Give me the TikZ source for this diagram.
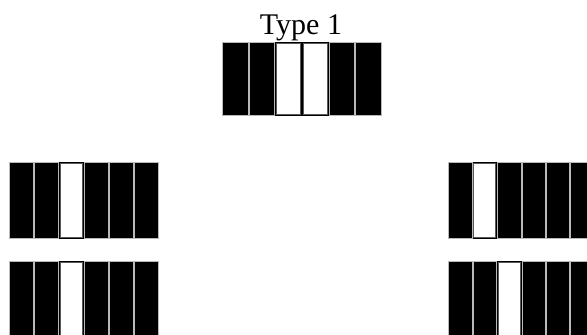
\documentclass[tikz,border=0pt]{standalone}
\usepackage{fontspec}
\setmainfont{Liberation Serif}
\tikzset{
  cellB/.style={fill=black, draw=gray!55, line width=1pt},
  cellBg/.style={fill=black, draw=none},
  cellW/.style={fill=white, draw=gray!70!black, line width=1pt},
  title/.style={font=\fontsize{30}{35}\selectfont, inner sep=0pt, anchor=base}
}
% #1 x0, #2 y0, #3 cell width, #4 height, #5 pattern list (B/W)
\newcommand{\barrow}[5]{%
  \foreach \f [count=\i from 0] in {#5} {%
    \pgfmathsetmacro\xa{#1+\i*#3}%
    \pgfmathsetmacro\xb{#1+(\i+1)*#3}%
    \if\f B%
      \draw[cellB] (\xa+0.5,#2+0.5) rectangle (\xb-0.5,#2+#4-0.5);%
    \else
      \fill[cellBg] (\xa,#2) rectangle (\xb,#2+#4);%
      \draw[cellW] (\xa+1.2,#2+1.5) rectangle (\xb-1.2,#2+#4-2);%
    \fi
  }%
}
\begin{document}
\begin{tikzpicture}[x=1pt,y=-1pt]
\useasboundingbox[fill=white] (0,0) rectangle (587,335);
% top group
\barrow{222.3}{41.7}{26.57}{74.3}{B,B,W,W,B,B}
% left groups
\barrow{9.3}{162.3}{24.9}{77}{B,B,W,B,B,B}
\barrow{9.3}{260.7}{24.9}{77}{B,B,W,B,B,B}
% right groups
\barrow{448.3}{162.3}{24.4}{77}{B,W,B,B,B,B}
\barrow{448.3}{260.7}{24.4}{77}{B,B,W,B,B,B}
\node[title] (t1) at (301,34) {Type 1};
\end{tikzpicture}
\end{document}
